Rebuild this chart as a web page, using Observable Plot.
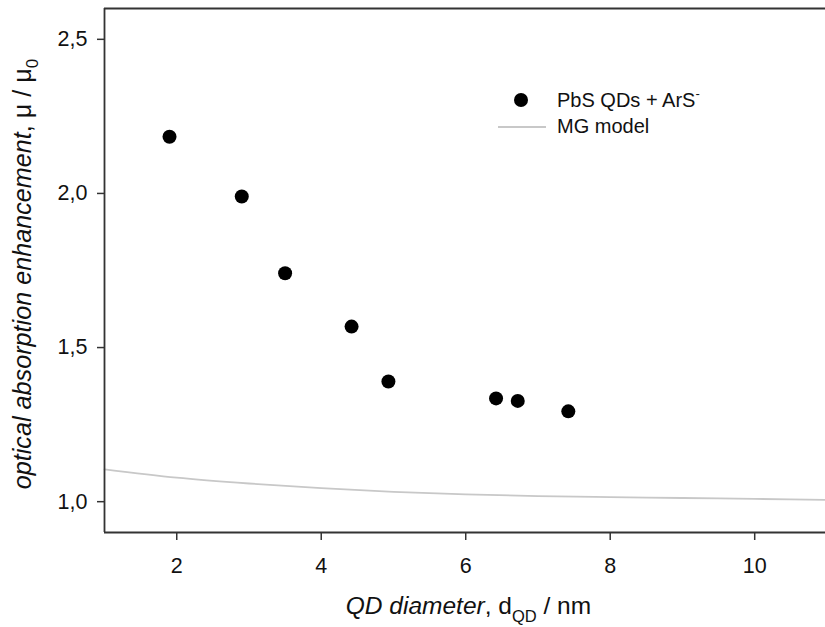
<!DOCTYPE html>
<html>
<head>
<meta charset="utf-8">
<script src="https://cdn.jsdelivr.net/npm/d3@7"></script>
<script src="https://cdn.jsdelivr.net/npm/@observablehq/plot@0.6"></script>
<style>
  html, body { margin: 0; padding: 0; background: #fff; overflow: hidden; }
  #chart { position: relative; width: 825px; height: 627px; }
  svg text { font-family: "Liberation Sans", Arial, sans-serif; }
</style>
</head>
<body>
<div id="chart"></div>
<script>
// Measured data: PbS QDs + ArS-
const qdDiameter = [1.9, 2.9, 3.5, 4.42, 4.93, 6.42, 6.72, 7.42];
const enhancement = [2.184, 1.99, 1.741, 1.568, 1.39, 1.335, 1.327, 1.293];

// MG model curve
const modelDiameter = [1, 2, 3, 4, 5, 6, 7, 8, 9, 10, 11];
const modelEnhancement = [1.105, 1.078, 1.059, 1.044, 1.032, 1.024, 1.018, 1.015, 1.012, 1.009, 1.006];

const xTicks = [2, 4, 6, 8, 10];
const yTicks = [1.0, 1.5, 2.0, 2.5];

const points = qdDiameter.map((d, i) => ({d, mu: enhancement[i]}));
const model = modelDiameter.map((d, i) => ({d, mu: modelEnhancement[i]}));

const axisColor = "#333";
const textColor = "#111";
const fmt = v => d3.format(".1f")(v).replace(".", ",");

const plot = Plot.plot({
  width: 825,
  height: 627,
  marginLeft: 104,
  marginRight: 0,
  marginTop: 8,
  marginBottom: 95,
  style: {fontFamily: "Liberation Sans, Arial, sans-serif", fontSize: "21px", color: textColor, background: "#fff"},
  x: {domain: [1, 10.98], label: null},
  y: {domain: [0.9, 2.6], label: null},
  marks: [
    Plot.axisX(xTicks, {tickSize: 8, tickPadding: 17, stroke: axisColor, strokeWidth: 1.5, fill: textColor, fontSize: 21.5}),
    Plot.axisY(yTicks, {tickSize: 7, tickPadding: 10, stroke: axisColor, strokeWidth: 1.5, fill: textColor, fontSize: 21.5, tickFormat: fmt}),
    Plot.line(model, {x: "d", y: "mu", stroke: "#c8c8c8", strokeWidth: 1.8, curve: "monotone-x"}),
    Plot.dot(points, {x: "d", y: "mu", r: 7, fill: "#000", stroke: "none"}),
    Plot.ruleX([1], {stroke: axisColor, strokeWidth: 1.8}),
    Plot.ruleY([0.9, 2.6], {stroke: axisColor, strokeWidth: 1.8})
  ]
});

document.getElementById("chart").appendChild(plot);

const svg = d3.select(plot);

// Y axis title
const yt = svg.append("text")
  .attr("transform", "translate(31,274) rotate(-90)")
  .attr("text-anchor", "middle")
  .attr("font-size", 25.2)
  .attr("fill", textColor);
yt.append("tspan").attr("font-style", "italic").text("optical absorption enhancement");
yt.append("tspan").text(", μ / μ");
yt.append("tspan").attr("font-size", 17).attr("dy", 7).text("0");

// X axis title
const xt = svg.append("text")
  .attr("x", 468.5)
  .attr("y", 614)
  .attr("text-anchor", "middle")
  .attr("font-size", 24.5)
  .attr("fill", textColor);
xt.append("tspan").attr("font-style", "italic").text("QD diameter");
xt.append("tspan").text(", d");
xt.append("tspan").attr("font-size", 16.5).attr("dy", 8).text("QD");
xt.append("tspan").attr("dy", -8).text(" / nm");

// Legend
const lg = svg.append("g").attr("font-size", 20).attr("fill", textColor).attr("text-anchor", "start");
lg.append("circle").attr("cx", 521).attr("cy", 100).attr("r", 7).attr("fill", "#000");
const l1 = lg.append("text").attr("x", 557).attr("y", 107);
l1.append("tspan").text("PbS QDs + ArS");
l1.append("tspan").attr("font-size", 13).attr("dy", -9).text("-");
lg.append("line").attr("x1", 498).attr("x2", 546).attr("y1", 127).attr("y2", 127)
  .attr("stroke", "#c8c8c8").attr("stroke-width", 1.8);
lg.append("text").attr("x", 557).attr("y", 133).text("MG model");
</script>
</body>
</html>
